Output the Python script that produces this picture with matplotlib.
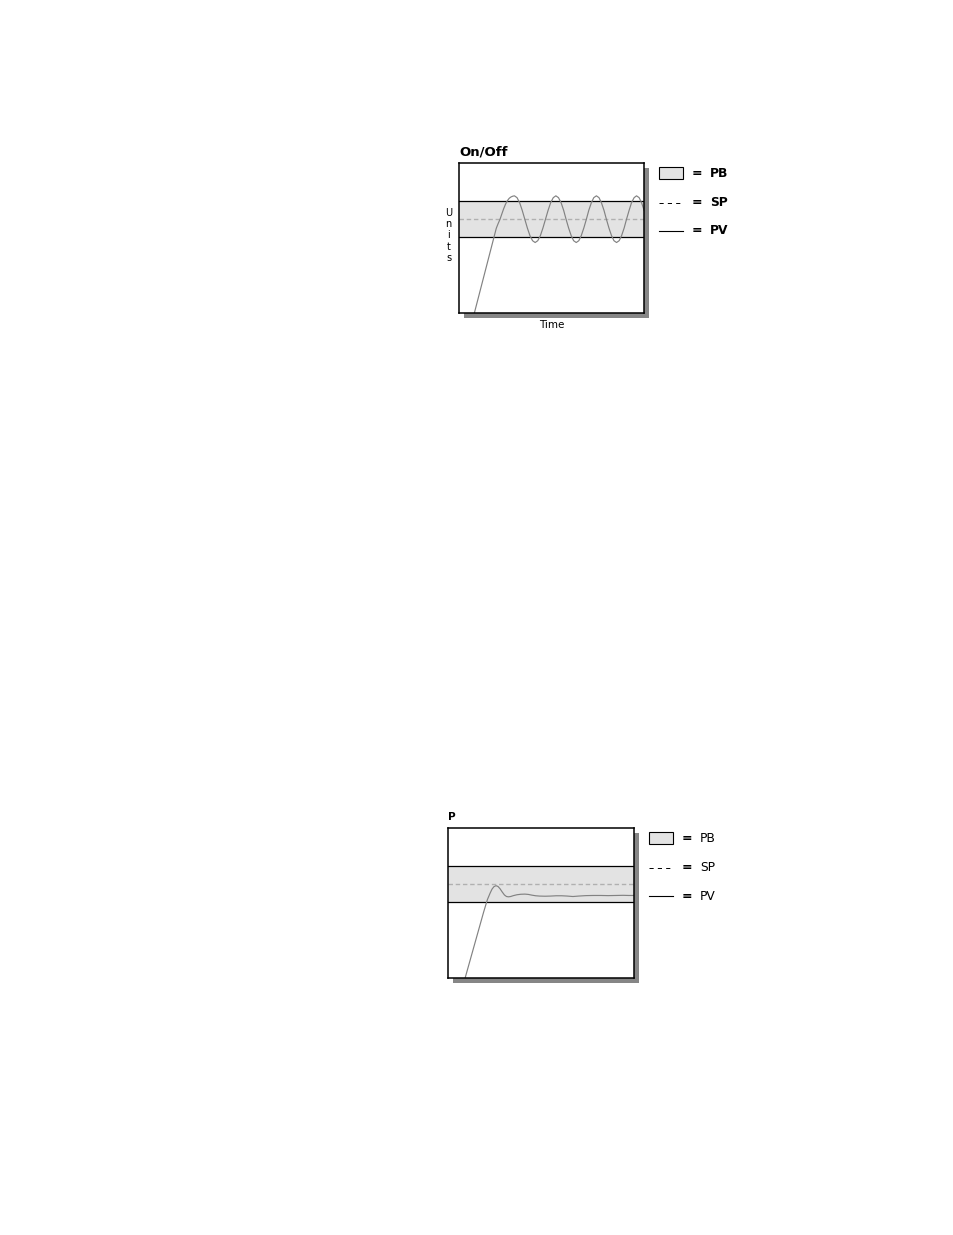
import matplotlib
matplotlib.use("Agg")
import matplotlib.pyplot as plt
from matplotlib.patches import Rectangle
from matplotlib.lines import Line2D

# page size in pixels
W, H = 954, 1235

# proportional band and set point, on a 0-100 "units" scale
pb_low, pb_high = 50.5, 74.6
sp_level = 62.3

legend_labels = ["PB", "SP", "PV"]
axis_letters = ["U", "n", "i", "t", "s"]

# On/Off control: process value
onoff_time = [8.1, 10, 12, 14, 16, 18, 20, 21, 22, 23, 24, 25, 26, 27, 28, 29, 29.8,
              31.2, 32.6, 34.0, 35.4, 36.8, 38.2, 39.6, 41.0,
              42.4, 43.8, 45.2, 46.6, 48.0, 49.4, 50.8, 52.2,
              53.6, 55.0, 56.4, 57.7, 59.1, 60.5, 61.8, 63.2,
              64.6, 65.9, 67.3, 68.7, 70.0, 71.4, 72.7, 74.1,
              75.5, 76.8, 78.2, 79.5, 80.9, 82.3, 83.6, 85.0,
              86.4, 87.7, 89.1, 90.4, 91.8, 93.1, 94.5, 95.8,
              97.2, 98.5, 99.9]
onoff_pv = [0, 9, 18.5, 28, 37.5, 47, 56.5, 59.6, 62.4, 66, 69.5, 72.5, 74.8, 76.4, 77.3, 77.8, 78.0,
            76.8, 73.5, 68.4, 62.5, 56.6, 51.5, 48.2, 47.0,
            48.2, 51.5, 56.6, 62.5, 68.4, 73.5, 76.8, 78.0,
            76.8, 73.5, 68.4, 62.5, 56.6, 51.5, 48.2, 47.0,
            48.2, 51.5, 56.6, 62.5, 68.4, 73.5, 76.8, 78.0,
            76.8, 73.5, 68.4, 62.5, 56.6, 51.5, 48.2, 47.0,
            48.2, 51.5, 56.6, 62.5, 68.4, 73.5, 76.8, 78.0,
            76.8, 73.5, 68.4]

# P control: process value
p_time = [9.0, 11, 13, 15, 17, 19, 21, 22.5, 23.5, 24.5, 25.6, 26.7, 27.8, 29, 30.2, 31.3,
          32.3, 33.5, 35, 37, 39, 41.2, 43, 45, 47, 49, 52, 55, 58, 61, 64, 67, 70, 74,
          78, 82, 86, 90, 94, 97, 100]
p_pv = [0, 8.8, 17.6, 26.4, 35.2, 44, 52.2, 56.6, 59.2, 60.8, 61.5, 61, 59.5, 57.3, 55.3, 54.3,
        54.1, 54.3, 54.9, 55.5, 55.8, 55.9, 55.7, 55.2, 54.8, 54.6, 54.5, 54.6, 54.8, 54.8,
        54.6, 54.3, 54.6, 54.9, 55.0, 55.0, 54.9, 55.0, 55.1, 55.0, 55.0]

plt.rcParams['font.family'] = ['DejaVu Sans']
plt.rcParams['lines.scale_dashes'] = False

fig = plt.figure(figsize=(W / 100, H / 100), dpi=100)


def fx(x):
    return x / W


def fy(y):
    return 1 - y / H


def panel(box, title, title_size, t, pv, axis_labels, legend_weight):
    left, top, right, bottom = box
    w, h = right - left, bottom - top

    # drop shadow behind the frame
    fig.patches.append(Rectangle((fx(left + 5), fy(bottom + 5)), w / W, h / H,
                                 transform=fig.transFigure, facecolor='#868686',
                                 edgecolor='none', zorder=0.5))

    ax = fig.add_axes([fx(left), fy(bottom), w / W, h / H])
    ax.set_zorder(1)
    ax.set_xlim(0, 100)
    ax.set_ylim(0, 100)
    ax.axhspan(pb_low, pb_high, facecolor='#e3e3e3', edgecolor='none')
    ax.axhline(pb_low, color='black', lw=0.9)
    ax.axhline(pb_high, color='black', lw=0.9)
    ax.axhline(sp_level, color='#b0b0b0', lw=1.0, linestyle=(0, (3.2, 2)))
    ax.plot(t, pv, color='#828282', lw=0.85)
    ax.set_xticks([])
    ax.set_yticks([])
    for s in ax.spines.values():
        s.set_linewidth(1.1)

    fig.text(fx(left), fy(top - 7.5), title, fontsize=title_size, fontweight='bold',
             ha='left', va='baseline')

    # legend drawn by hand to the right of the frame
    x0, x1 = right + 14.7, right + 38.5
    fig.patches.append(Rectangle((fx(x0), fy(top + 16)), (x1 - x0) / W, 12 / H,
                                 transform=fig.transFigure, facecolor='#e3e3e3',
                                 edgecolor='black', lw=0.8))
    rows = [top + 10.5, top + 39.8, top + 68.3]
    fig.add_artist(Line2D([fx(x0), fx(x1)], [fy(rows[1])] * 2, transform=fig.transFigure,
                          color='black', lw=0.7, linestyle=(0, (3, 3))))
    fig.add_artist(Line2D([fx(x0), fx(x1)], [fy(rows[2])] * 2, transform=fig.transFigure,
                          color='black', lw=0.8))
    for yy, lab in zip(rows, legend_labels):
        fig.text(fx(right + 47), fy(yy), "=", fontsize=9, fontweight='bold',
                 ha='left', va='center')
        fig.text(fx(right + 65.5), fy(yy), lab, fontsize=8.8, fontweight=legend_weight,
                 ha='left', va='center')

    if axis_labels:
        fig.text(fx((left + right) / 2), fy(bottom + 11.5), "Time", fontsize=7.5,
                 ha='center', va='center')
        for i, ch in enumerate(axis_letters):
            fig.text(fx(left - 10.8), fy(top + 50 + 11.3 * i), ch, fontsize=7,
                     ha='center', va='center')
    return ax


panel((459.3, 162.7, 644.3, 313.3), "On/Off", 9.5, onoff_time, onoff_pv, True, 'bold')
panel((448.3, 827.7, 634.3, 978.3), "P", 7.5, p_time, p_pv, False, 'normal')

fig.savefig("out.png", dpi=100, facecolor='white')
